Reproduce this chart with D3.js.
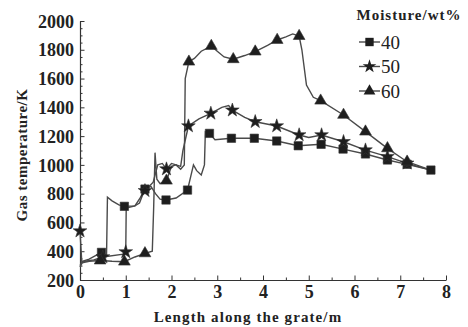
<!DOCTYPE html>
<html><head><meta charset="utf-8">
<script src="https://cdn.jsdelivr.net/npm/d3@7"></script>
<style>body{margin:0;background:#fff}</style>
</head><body>
<svg id="c" width="468" height="327"></svg>
<script>
// ---- data ----
const xTicks = [0,1,2,3,4,5,6,7,8];
const yTicks = [200,400,600,800,1000,1200,1400,1600,1800,2000];
const seriesNames = ["40","50","60"];
const legendTitle = "Moisture/wt%";

const lineX40 = [0,0.05,0.2,0.47,0.58,0.6,0.7,0.85,0.97,1.2,1.3,1.42,1.55,1.65,1.75,1.88,2.1,2.35,2.48,2.55,2.65,2.72,2.74,2.83,2.95,3.31,3.81,4.30,4.77,5.27,5.75,6.24,6.72,7.15,7.67];
const lineY40 = [300,330,345,392,370,775,750,722,712,715,735,832,850,800,762,756,770,825,1000,960,930,1000,1230,1219,1175,1185,1185,1166,1133,1143,1110,1076,1034,1004,964];
const markX40 = [0.47,0.97,1.42,1.88,2.35,2.83,3.31,3.81,4.30,4.77,5.27,5.75,6.24,6.72,7.15,7.67];
const markY40 = [392,712,832,756,825,1219,1185,1185,1166,1133,1143,1110,1076,1034,1004,964];

const lineX50 = [0,0.04,0.1,0.3,0.5,0.95,1.0,1.01,1.2,1.42,1.6,1.7,1.8,1.89,2.0,2.1,2.2,2.25,2.37,2.6,2.86,3.1,3.25,3.33,3.6,3.83,4.30,4.79,5.0,5.28,5.76,6.24,6.72,7.15,7.67];
const lineY50 = [540,320,330,340,360,380,395,700,715,820,880,1000,1010,971,1010,1000,990,1100,1270,1320,1358,1400,1413,1380,1330,1300,1270,1208,1190,1208,1161,1103,1057,1011,964];
const markX50 = [0,0.5,1.0,1.42,1.89,2.37,2.86,3.33,3.83,4.30,4.79,5.28,5.76,6.24,6.72,7.15];
const markY50 = [540,360,395,820,971,1270,1358,1380,1300,1270,1208,1208,1161,1103,1057,1011];

const lineX60 = [0,0.05,0.2,0.44,0.7,0.97,1.2,1.42,1.58,1.61,1.64,1.68,1.75,1.89,2.0,2.1,2.2,2.28,2.30,2.38,2.5,2.65,2.87,3.0,3.15,3.35,3.6,3.83,4.1,4.31,4.5,4.65,4.79,4.85,4.95,5.1,5.26,5.76,6.24,6.72,7.15,7.67];
const lineY60 = [290,320,330,335,330,327,360,385,400,700,1085,900,870,890,990,1000,970,1000,1600,1717,1740,1790,1826,1790,1750,1734,1760,1787,1830,1868,1890,1910,1895,1800,1555,1470,1446,1347,1231,1115,1022,964];
const markX60 = [0.44,0.97,1.42,1.89,2.38,2.87,3.35,3.83,4.31,4.79,5.26,5.76,6.24,6.72,7.15];
const markY60 = [335,327,385,890,1717,1826,1734,1787,1868,1895,1446,1347,1231,1115,1022];

// ---- chart ----
const svg = d3.select("#c");
const x = d3.scaleLinear().domain([0,8]).range([80,446]);
const y = d3.scaleLinear().domain([200,2000]).range([280,21]);
const font = "'Liberation Serif','Times New Roman',serif";
const axisColor = "#333";

// minor ticks
const xMinor = d3.range(0.5,8,1);
const yMinor = d3.range(250,2000,50).filter(v => v % 200 !== 0);
svg.append("g").attr("transform","translate(0,280)")
  .call(d3.axisBottom(x).tickValues(xMinor).tickSize(-2.5).tickFormat(""))
  .call(g=>g.select(".domain").remove())
  .call(g=>g.selectAll("line").attr("stroke",axisColor));
svg.append("g").attr("transform","translate(80,0)")
  .call(d3.axisLeft(y).tickValues(yMinor).tickSize(-2.5).tickFormat(""))
  .call(g=>g.select(".domain").remove())
  .call(g=>g.selectAll("line").attr("stroke",axisColor));

const gx = svg.append("g").attr("transform","translate(0,280)")
  .call(d3.axisBottom(x).tickValues(xTicks).tickSize(-4.5).tickSizeOuter(0).tickPadding(5).tickFormat(d3.format("d")));
const gy = svg.append("g").attr("transform","translate(80,0)")
  .call(d3.axisLeft(y).tickValues(yTicks).tickSize(-4.5).tickSizeOuter(0).tickPadding(6).tickFormat(d3.format("d")));
[gx,gy].forEach(g=>{
  g.select(".domain").attr("stroke",axisColor).attr("stroke-width",1.2);
  g.selectAll("line").attr("stroke",axisColor);
  g.selectAll("text").attr("font-family",font).attr("font-weight","bold").attr("font-size",18).attr("fill","#222");
});
gy.selectAll("text").attr("dy","0.34em");

// axis titles
svg.append("text").attr("x",248).attr("y",322).attr("text-anchor","middle")
  .attr("font-family",font).attr("font-weight","bold").attr("font-size",15).attr("fill","#222")
  .attr("letter-spacing",1.1).text("Length along the grate/m");
svg.append("text").attr("transform","translate(27,155) rotate(-90)").attr("text-anchor","middle")
  .attr("font-family",font).attr("font-weight","bold").attr("font-size",15).attr("fill","#222")
  .attr("letter-spacing",0.5).text("Gas temperature/K");

// series
const series = [
  {name:seriesNames[0], lx:lineX40, ly:lineY40, mx:markX40, my:markY40, sym:d3.symbolSquare, size:70},
  {name:seriesNames[1], lx:lineX50, ly:lineY50, mx:markX50, my:markY50, sym:d3.symbolStar, size:58},
  {name:seriesNames[2], lx:lineX60, ly:lineY60, mx:markX60, my:markY60, sym:d3.symbolTriangle, size:60}
];
const line = d3.line().x(d=>x(d[0])).y(d=>y(d[1]));
series.forEach(s=>{
  const pts = s.lx.map((v,i)=>[v,s.ly[i]]);
  svg.append("path").attr("d",line(pts)).attr("fill","none").attr("stroke","#4a4a4a").attr("stroke-width",1.4);
});
series.forEach(s=>{
  svg.append("g").selectAll("path").data(s.mx.map((v,i)=>[v,s.my[i]])).join("path")
    .attr("transform",d=>`translate(${x(d[0])},${y(d[1])})`)
    .attr("d",d3.symbol().type(s.sym).size(s.size)).attr("fill","#1e1e1e").attr("stroke","#333").attr("stroke-width",0.6);
});

// legend
svg.append("text").attr("x",409).attr("y",20).attr("text-anchor","middle")
  .attr("font-family",font).attr("font-weight","bold").attr("font-size",15).attr("fill","#222")
  .attr("letter-spacing",1).text(legendTitle);
series.forEach((s,i)=>{
  const ly = 42 + i*24.5;
  svg.append("line").attr("x1",359).attr("x2",380).attr("y1",ly).attr("y2",ly).attr("stroke","#4a4a4a").attr("stroke-width",1.4);
  svg.append("path").attr("transform",`translate(369.5,${ly})`).attr("d",d3.symbol().type(s.sym).size(s.size)).attr("fill","#1e1e1e");
  svg.append("text").attr("x",381).attr("y",ly).attr("dy","0.35em").attr("font-family",font).attr("font-size",19).attr("fill","#222").text(s.name);
});
</script>
</body></html>
